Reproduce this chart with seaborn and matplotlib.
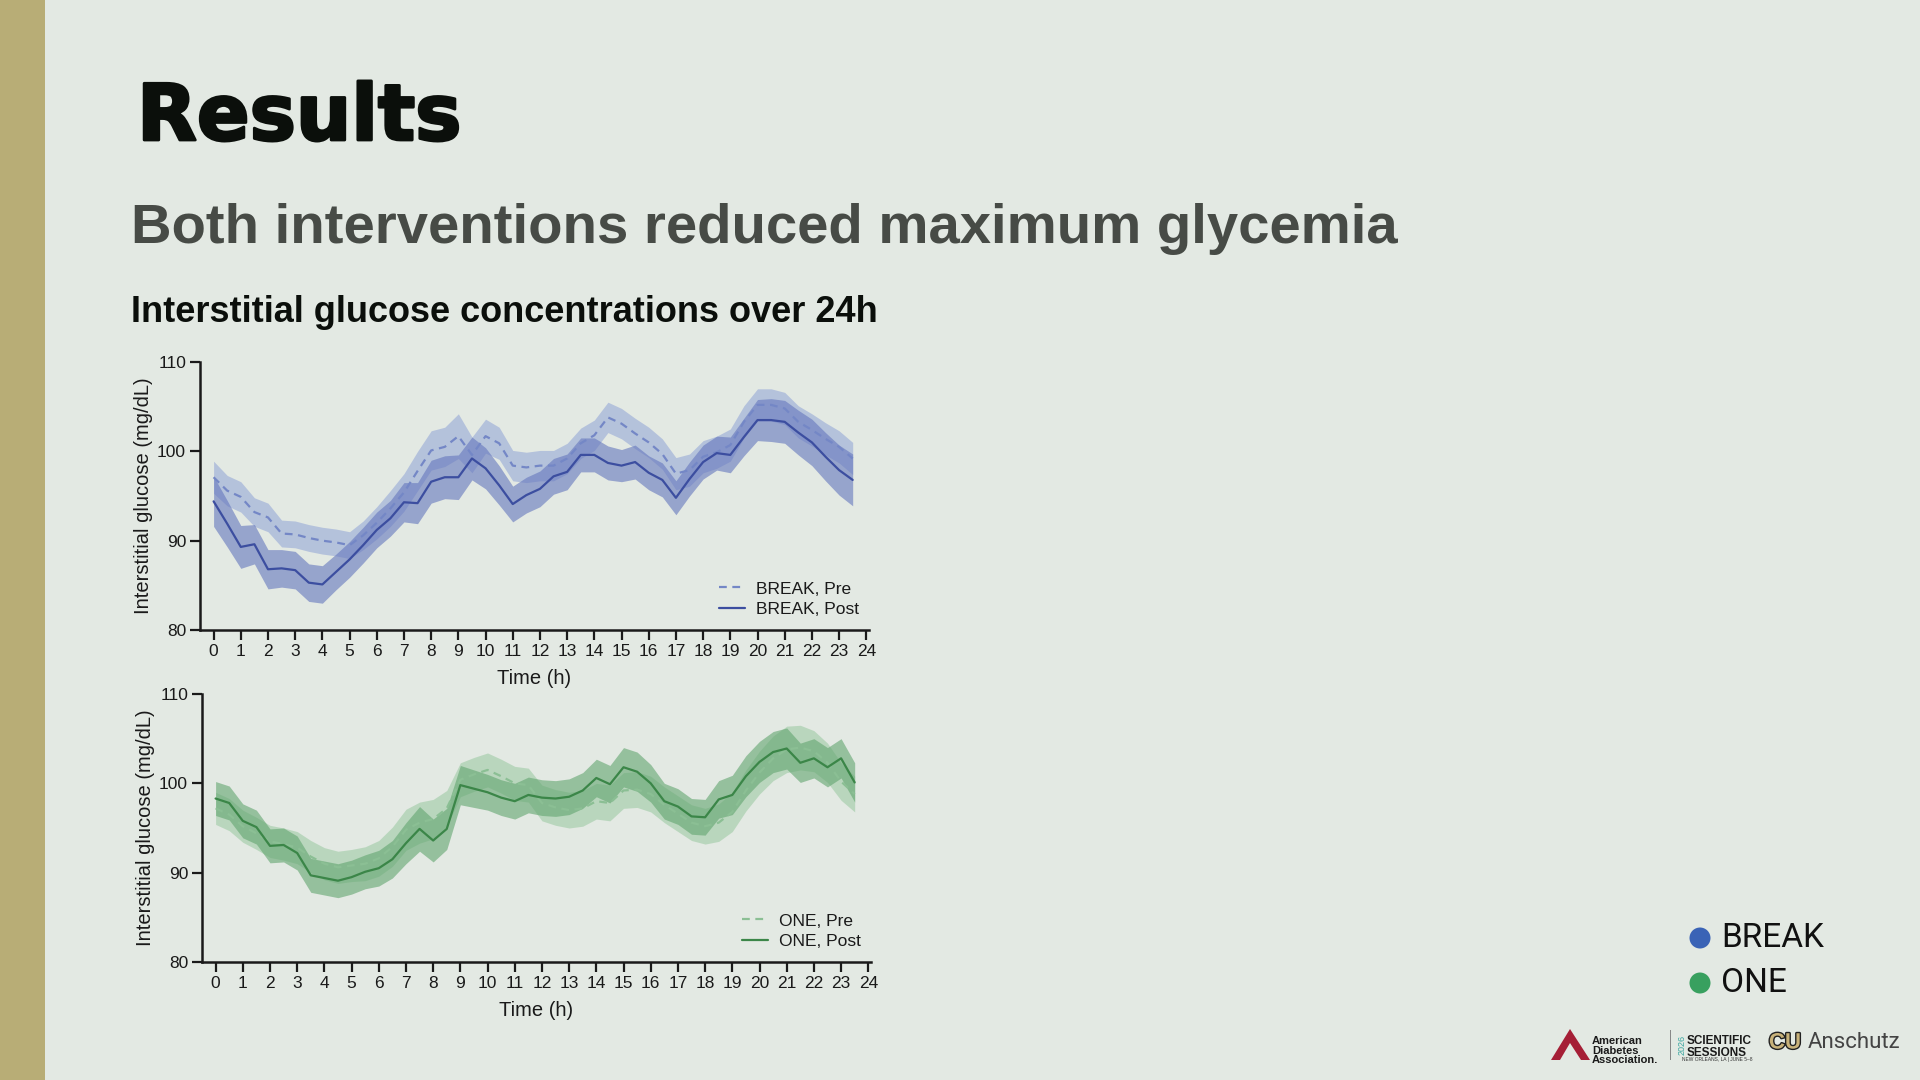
import numpy as np
import pandas as pd
import matplotlib
matplotlib.use("Agg")
import matplotlib.pyplot as plt
import matplotlib.patheffects as pe
from matplotlib.patches import Rectangle, Polygon, Ellipse
import seaborn as sns

# time points (h), every 30 min
hours = np.arange(0, 24, 0.5)

# BREAK arm, mean and SEM (mg/dL)
break_pre = [97.1, 95.6, 94.9, 93.2, 92.6, 90.8, 90.7, 90.3, 90.0, 89.8, 89.5, 90.6,
             92.0, 93.6, 95.4, 97.8, 100.1, 100.5, 101.7, 99.6, 101.7, 100.9, 98.4, 98.2,
             98.4, 98.4, 99.2, 100.9, 101.8, 103.8, 103.1, 102.0, 101.0, 99.7, 97.5, 97.9,
             99.4, 99.9, 100.7, 103.3, 105.2, 105.2, 104.8, 103.3, 102.4, 101.4, 100.5, 99.2]
break_pre_sem = [1.8, 1.7, 1.7, 1.6, 1.6, 1.5, 1.5, 1.5, 1.5, 1.5, 1.5, 1.6,
                 1.8, 2.0, 2.1, 2.2, 2.2, 2.2, 2.5, 2.0, 1.9, 1.8, 1.7, 1.7,
                 1.7, 1.7, 1.7, 1.7, 1.7, 1.7, 1.7, 1.7, 1.7, 1.7, 1.8, 1.8,
                 1.8, 1.8, 1.8, 1.8, 1.8, 1.8, 1.8, 1.8, 1.8, 1.8, 1.8, 1.8]
break_post = [94.4, 91.9, 89.3, 89.6, 86.8, 86.9, 86.7, 85.3, 85.1, 86.5, 87.9, 89.5,
              91.2, 92.5, 94.3, 94.2, 96.6, 97.1, 97.1, 99.2, 98.1, 96.2, 94.1, 95.1,
              95.8, 97.2, 97.7, 99.6, 99.6, 98.7, 98.4, 98.8, 97.6, 96.8, 94.8, 96.9,
              98.8, 99.8, 99.6, 101.6, 103.5, 103.5, 103.3, 102.1, 101.0, 99.4, 97.9, 96.8]
break_post_sem = [2.8, 2.6, 2.4, 2.2, 2.2, 2.1, 2.1, 2.1, 2.1, 2.0, 2.0, 2.0,
                  2.0, 2.0, 2.2, 2.3, 2.4, 2.4, 2.5, 2.4, 2.3, 2.2, 2.0, 2.0,
                  2.0, 2.0, 2.0, 1.9, 1.9, 1.9, 1.8, 1.9, 1.9, 1.9, 1.9, 1.9,
                  1.9, 1.9, 2.0, 2.1, 2.3, 2.4, 2.4, 2.5, 2.6, 2.7, 2.8, 2.9]

# ONE arm, mean and SEM (mg/dL)
one_pre = [97.2, 96.5, 95.2, 94.4, 93.5, 93.2, 92.8, 91.8, 91.0, 90.6, 90.8, 91.0,
           91.6, 92.9, 94.8, 95.6, 96.0, 97.2, 100.4, 101.0, 101.5, 100.8, 100.0, 99.8,
           97.8, 97.3, 97.0, 97.2, 98.0, 97.8, 99.2, 99.3, 98.8, 97.6, 96.6, 95.6,
           95.2, 95.6, 96.8, 99.2, 101.2, 102.8, 103.8, 104.0, 103.6, 102.3, 100.2, 98.8]
one_pre_sem = [1.8, 1.8, 1.8, 1.8, 1.8, 1.8, 1.8, 1.8, 1.8, 1.8, 1.8, 1.9,
               2.0, 2.2, 2.3, 2.3, 2.2, 2.0, 1.9, 1.9, 1.9, 1.9, 1.9, 1.9,
               2.0, 2.0, 2.0, 2.0, 2.0, 2.0, 2.0, 2.0, 2.0, 2.0, 2.0, 2.0,
               2.0, 2.1, 2.2, 2.3, 2.4, 2.5, 2.6, 2.5, 2.3, 2.2, 2.1, 2.0]
one_post = [98.3, 97.8, 95.8, 95.1, 93.0, 93.1, 92.2, 89.7, 89.4, 89.1, 89.5, 90.1,
            90.5, 91.5, 93.3, 94.9, 93.6, 94.9, 99.8, 99.4, 99.0, 98.4, 98.0, 98.7,
            98.4, 98.3, 98.5, 99.2, 100.6, 99.9, 101.8, 101.3, 100.0, 98.0, 97.4, 96.3,
            96.2, 98.2, 98.7, 100.8, 102.4, 103.5, 103.9, 102.3, 102.8, 101.8, 102.8, 100.1]
one_post_sem = [1.9, 1.9, 1.9, 1.9, 1.9, 1.9, 1.9, 1.9, 1.9, 1.9, 1.9, 1.9,
                2.0, 2.1, 2.3, 2.5, 2.4, 2.3, 2.2, 2.1, 2.0, 2.0, 2.0, 2.0,
                2.0, 2.0, 2.0, 2.0, 2.1, 2.1, 2.2, 2.2, 2.1, 2.0, 2.0, 2.0,
                2.0, 2.1, 2.2, 2.3, 2.3, 2.3, 2.3, 2.2, 2.2, 2.2, 2.2, 2.2]

BG = "#e3e9e3"
GOLD = "#b8ad76"

sns.set_theme(style="ticks")
plt.rcParams["font.family"] = ["Liberation Sans", "DejaVu Sans"]

W, H = 1920, 1080
fig = plt.figure(figsize=(W / 100, H / 100), dpi=100)
fig.patch.set_facecolor(BG)

def fx(x):
    return x / W

def fy(y):
    return 1 - y / H

fig.add_artist(Rectangle((0, 0), fx(45), 1, transform=fig.transFigure,
                         facecolor=GOLD, edgecolor="none"))

fig.text(fx(137), fy(140), "Results", fontsize=56, fontweight="bold", color="#0b0f0b",
         family=["DejaVu Sans"],
         path_effects=[pe.withStroke(linewidth=2, foreground="#0b0f0b")])
fig.text(fx(131), fy(243), "Both interventions reduced maximum glycemia", fontsize=40.5,
         fontweight="bold", color="#474b46")
fig.text(fx(131), fy(322), "Interstitial glucose concentrations over 24h", fontsize=26,
         fontweight="bold", color="#0b0f0b")


def panel(rect, name, pre, pre_sem, post, post_sem, pre_col, post_col, line_pre, line_post):
    ax = fig.add_axes(rect)
    ax.set_facecolor(BG)
    pre = np.array(pre)
    post = np.array(post)
    pre_sem = np.array(pre_sem)
    post_sem = np.array(post_sem)
    ax.fill_between(hours, pre - pre_sem, pre + pre_sem, color=pre_col, alpha=0.55, lw=0)
    ax.fill_between(hours, post - post_sem, post + post_sem, color=post_col, alpha=0.6, lw=0)

    lab_pre, lab_post = f"{name}, Pre", f"{name}, Post"
    df = pd.DataFrame({
        "Time (h)": np.concatenate([hours, hours]),
        "glucose": np.concatenate([pre, post]),
        "series": [lab_pre] * len(hours) + [lab_post] * len(hours),
    })
    sns.lineplot(data=df, x="Time (h)", y="glucose", hue="series", style="series",
                 palette={lab_pre: line_pre, lab_post: line_post},
                 dashes={lab_pre: (3.5, 2.5), lab_post: ""}, linewidth=1.6, ax=ax)

    ax.set_xlim(-0.5, 24.1)
    ax.set_ylim(80, 110)
    ax.set_xticks(range(0, 25))
    ax.set_yticks([80, 90, 100, 110])
    ax.set_xlabel("Time (h)", fontsize=14.5, color="#1a1a1a", labelpad=7)
    ax.set_ylabel("Interstitial glucose (mg/dL)", fontsize=14.5, color="#1a1a1a", labelpad=3)
    for s in ["top", "right"]:
        ax.spines[s].set_visible(False)
    for s in ["left", "bottom"]:
        ax.spines[s].set_linewidth(1.8)
        ax.spines[s].set_color("#1a1a1a")
    ax.tick_params(axis="both", direction="out", length=7, width=1.6, color="#1a1a1a",
                   labelsize=12.5, labelcolor="#1a1a1a", pad=3)
    leg = ax.legend(loc="lower right", bbox_to_anchor=(1.0, 0.01), frameon=False,
                    fontsize=12.5, handlelength=1.5, handletextpad=0.6, labelspacing=0.3,
                    borderaxespad=0.2)
    for t in leg.get_texts():
        t.set_color("#1a1a1a")
    return ax


panel([fx(200), fy(630), fx(669), (630 - 362) / H], "BREAK",
      break_pre, break_pre_sem, break_post, break_post_sem,
      "#8fa2d6", "#6476bd", "#7487c6", "#3c4ea0")
panel([fx(202), fy(962), fx(669), (962 - 694) / H], "ONE",
      one_pre, one_pre_sem, one_post, one_post_sem,
      "#98c89f", "#62a56f", "#8bbf94", "#3b8648")

# group key, bottom right
for yy, col, lab in [(938, "#3a63b6", "BREAK"), (983, "#38a05f", "ONE")]:
    fig.add_artist(Ellipse((fx(1700), fy(yy)), 21 / W, 21 / H, transform=fig.transFigure,
                           facecolor=col, edgecolor="none"))
    fig.text(fx(1721), fy(yy), lab, fontsize=24, family=["Roboto", "DejaVu Sans"],
             color="#111111", va="center")

# footer logos, roughly
fig.add_artist(Polygon([[fx(1551), fy(1060)], [fx(1570), fy(1029)], [fx(1590), fy(1060)],
                        [fx(1581), fy(1060)], [fx(1570), fy(1043)], [fx(1560), fy(1060)]],
                       closed=True, transform=fig.transFigure, facecolor="#a51f36",
                       edgecolor="none"))
fig.text(fx(1592), fy(1036), "American\nDiabetes\nAssociation.", fontsize=8, fontweight="bold",
         color="#1a1a1a", va="top", linespacing=0.95)
fig.add_artist(Rectangle((fx(1670), fy(1060)), 0.0006, (1060 - 1030) / H,
                         transform=fig.transFigure, facecolor="#888888", edgecolor="none"))
fig.text(fx(1682), fy(1045), "2026", fontsize=6.5, color="#3aa6a0", rotation=90,
         va="center", ha="center")
fig.text(fx(1687), fy(1035), "SCIENTIFIC\nSESSIONS", fontsize=8.5, fontweight="bold",
         color="#1a1a1a", va="top", linespacing=0.95)
fig.text(fx(1682), fy(1059), "NEW ORLEANS, LA | JUNE 5–8", fontsize=3.5, color="#333333",
         va="center")
fig.text(fx(1785), fy(1043), "CU", fontsize=16, fontweight="bold", color="#c8b27a",
         va="center", ha="center",
         path_effects=[pe.withStroke(linewidth=2, foreground="#222222")])
fig.text(fx(1808), fy(1043), "Anschutz", fontsize=16, family=["Roboto", "DejaVu Sans"],
         color="#444444", va="center")

fig.savefig("out.png", dpi=100, facecolor=BG)
